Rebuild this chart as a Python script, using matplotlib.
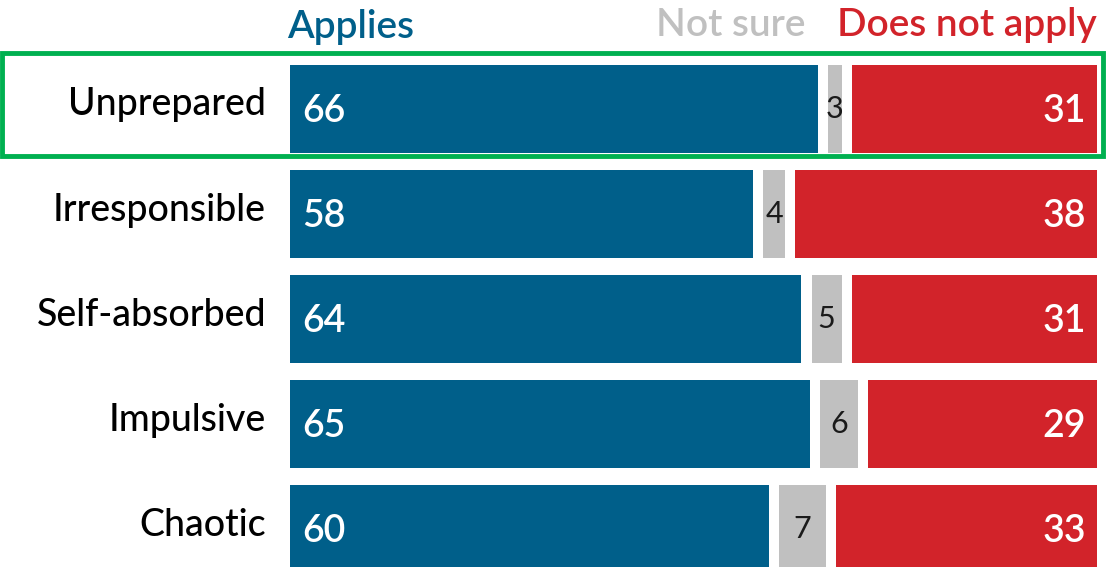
import numpy as np
import matplotlib.pyplot as plt
from matplotlib.patches import Rectangle

categories = ["Unprepared", "Irresponsible", "Self-absorbed", "Impulsive", "Chaotic"]
applies = [66, 58, 64, 65, 60]
not_sure = [3, 4, 5, 6, 7]
not_apply = [31, 38, 31, 29, 33]

blue = "#005f8a"
grey = "#c0c0c0"
red = "#d2232a"
green = "#00b050"

plt.rcParams['font.family'] = ['Lato', 'DejaVu Sans']

fig = plt.figure(figsize=(11.2, 5.67), dpi=100)
ax = fig.add_axes([290 / 1120, 0, 807 / 1120, 1])
ax.set_xlim(0, 100)
ax.set_ylim(4.362, -1.038)
ax.axis('off')

gap = 1.25
h = 0.83
y = np.arange(len(categories))
a = np.array(applies)
n = np.array(not_sure)
r = np.array(not_apply)

ax.barh(y, a - gap / 2, left=0, height=h, color=blue)
ax.barh(y, n - gap, left=a + gap / 2, height=h, color=grey)
ax.barh(y, r - gap / 2, left=a + n + gap / 2, height=h, color=red)

for i in range(len(categories)):
    ax.text(1.5, y[i] + 0.02, str(applies[i]), color='white', fontsize=27,
            fontweight='semibold', ha='left', va='center')
    ax.text(a[i] + n[i] / 2, y[i] + 0.0, str(not_sure[i]), color='#1a1a1a',
            fontsize=22, ha='center', va='center')
    ax.text(98.6, y[i] + 0.02, str(not_apply[i]), color='white', fontsize=27,
            fontweight='semibold', ha='right', va='center')
    fig.text(266 / 1120, 1 - (105 + 105 * i) / 567, categories[i], color='black',
             fontsize=27, fontweight='medium', ha='right', va='center')

fig.text(287 / 1120, 1 - 27 / 567, "Applies", color=blue, fontsize=28,
         fontweight='semibold', ha='left', va='center')
fig.text(806 / 1120, 1 - 25 / 567, "Not sure", color=grey, fontsize=28,
         fontweight='semibold', ha='right', va='center')
fig.text(1097 / 1120, 1 - 25 / 567, "Does not apply", color=red, fontsize=28,
         fontweight='semibold', ha='right', va='center')

fig.patches.append(Rectangle((1.5 / 1120, 1 - 156 / 567), 1101 / 1120, 103 / 567,
                             transform=fig.transFigure, fill=False,
                             edgecolor=green, linewidth=3.5))

fig.savefig("out.png", dpi=100)
